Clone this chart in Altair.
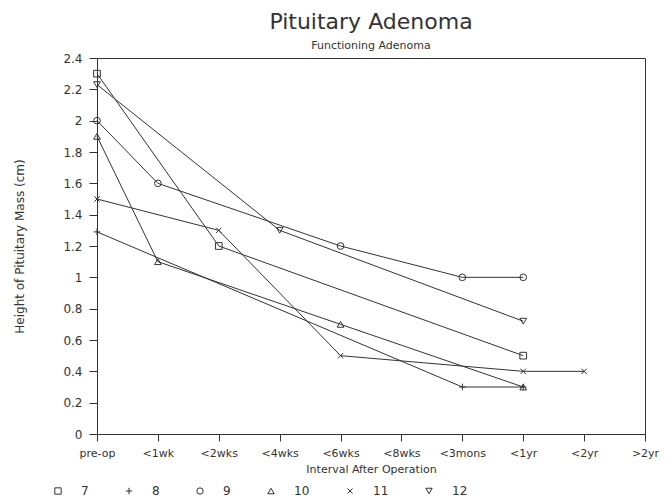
import altair as alt
import pandas as pd

categories = ["pre-op", "<1wk", "<2wks", "<4wks", "<6wks", "<8wks", "<3mons", "<1yr", "<2yr", ">2yr"]
series_names = ["7", "8", "9", "10", "11", "12"]
y_ticks = [0, 0.2, 0.4, 0.6, 0.8, 1.0, 1.2, 1.4, 1.6, 1.8, 2.0, 2.2, 2.4]

s7_x = ["pre-op", "<2wks", "<1yr"]
s7_y = [2.3, 1.2, 0.5]
s8_x = ["pre-op", "<3mons", "<1yr"]
s8_y = [1.29, 0.3, 0.3]
s9_x = ["pre-op", "<1wk", "<6wks", "<3mons", "<1yr"]
s9_y = [2.0, 1.6, 1.2, 1.0, 1.0]
s10_x = ["pre-op", "<1wk", "<6wks", "<1yr"]
s10_y = [1.9, 1.1, 0.7, 0.3]
s11_x = ["pre-op", "<2wks", "<6wks", "<1yr", "<2yr"]
s11_y = [1.5, 1.3, 0.5, 0.4, 0.4]
s12_x = ["pre-op", "<4wks", "<1yr"]
s12_y = [2.23, 1.3, 0.72]

rows = []
for name, xs, ys in [("7", s7_x, s7_y), ("8", s8_x, s8_y), ("9", s9_x, s9_y),
                     ("10", s10_x, s10_y), ("11", s11_x, s11_y), ("12", s12_x, s12_y)]:
    for xv, yv in zip(xs, ys):
        rows.append({"series": name, "interval": xv, "height": yv,
                     "order": categories.index(xv)})
df = pd.DataFrame(rows)

shapes = ["square", "M-1,0L1,0M0,-1L0,1", "circle", "triangle-up",
          "M-0.8,-0.8L0.8,0.8M-0.8,0.8L0.8,-0.8", "triangle-down"]

FONT = "DejaVu Sans"
INK = "#333333"

x_enc = alt.X("interval:N", sort=categories,
              scale=alt.Scale(type="point", domain=categories, padding=0),
              axis=alt.Axis(title="Interval After Operation", labelAngle=0, grid=False,
                            labelPadding=6, tickSize=7, titlePadding=5,
                            labelFontSize=11, titleFontSize=11, titleFontWeight="normal",
                            labelFont=FONT, titleFont=FONT, labelColor=INK, titleColor=INK,
                            domainColor=INK, tickColor=INK))
y_enc = alt.Y("height:Q", scale=alt.Scale(domain=[0, 2.4], nice=False),
              axis=alt.Axis(title="Height of Pituitary Mass (cm)", values=y_ticks, grid=False,
                            format=".1~f", tickSize=8, labelPadding=7, titlePadding=36,
                            labelFontSize=12, titleFontSize=12, titleFontWeight="normal",
                            labelFont=FONT, titleFont=FONT, labelColor=INK, titleColor=INK,
                            domainColor=INK, tickColor=INK))

base = alt.Chart(df)

lines = base.mark_line(color=INK, strokeWidth=1).encode(
    x=x_enc, y=y_enc, detail="series:N", order="order:Q")

points = base.mark_point(color=INK, filled=False, strokeWidth=1, size=45, opacity=1).encode(
    x=x_enc, y=y_enc,
    shape=alt.Shape("series:N", sort=series_names,
                    scale=alt.Scale(domain=series_names, range=shapes),
                    legend=alt.Legend(title=None, orient="none", direction="horizontal",
                                      legendX=-45, legendY=427, labelOffset=17,
                                      columnPadding=34, symbolSize=40, symbolStrokeWidth=1,
                                      symbolStrokeColor=INK, labelFontSize=12,
                                      labelColor=INK, labelFont=FONT)))

chart = (lines + points).properties(
    width=548, height=376,
    padding={"left": 89, "top": 50, "right": 17, "bottom": 68},
    autosize=alt.AutoSizeParams(type="none"),
    title=alt.TitleParams("Pituitary Adenoma", subtitle="Functioning Adenoma",
                          fontSize=22, fontWeight="normal", subtitleFontSize=11,
                          font=FONT, subtitleFont=FONT, color=INK, subtitleColor=INK,
                          anchor="middle", offset=0, subtitlePadding=6),
).configure_view(stroke=INK, strokeWidth=1)

chart.save("out.html", embed_options={"renderer": "svg", "actions": False})
